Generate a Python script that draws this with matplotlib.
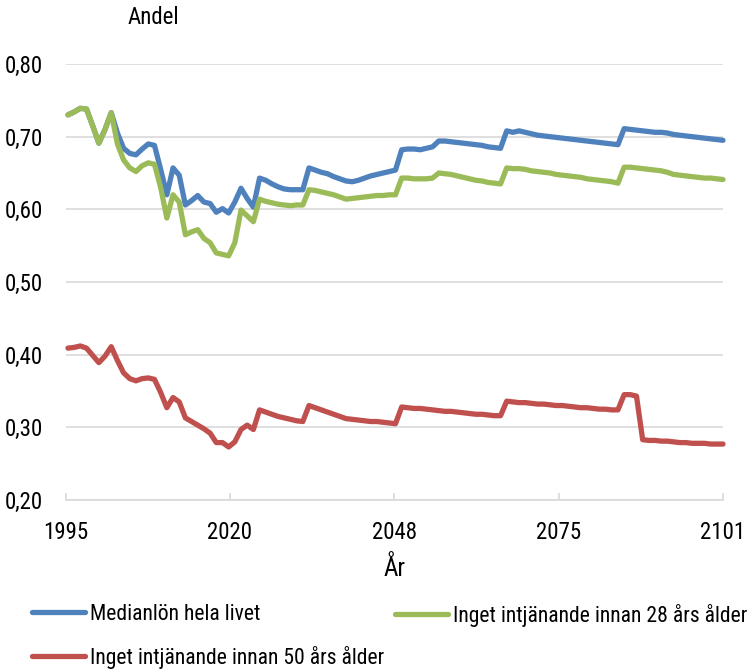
import numpy as np
import matplotlib
matplotlib.use("Agg")
import matplotlib.pyplot as plt
from matplotlib import font_manager

years = list(range(1995, 2102))

median_life = [
    0.730, 0.734, 0.739, 0.738, 0.715,                      # 1995-1999
    0.691, 0.710, 0.733, 0.705, 0.684, 0.677, 0.675, 0.683, 0.690, 0.688,  # 2000-2009
    0.655, 0.620, 0.657, 0.647, 0.606, 0.612, 0.619, 0.610, 0.608, 0.596,  # 2010-2019
    0.601, 0.595, 0.610, 0.629, 0.615, 0.603, 0.643, 0.640, 0.635, 0.631,  # 2020-2029
    0.628, 0.627, 0.627, 0.627, 0.657, 0.654, 0.651, 0.649, 0.645, 0.642,  # 2030-2039
    0.639, 0.638, 0.640, 0.643, 0.646, 0.648, 0.650, 0.652, 0.654, 0.682,  # 2040-2049
    0.683, 0.683, 0.682, 0.684, 0.686, 0.694, 0.694, 0.693, 0.692, 0.691,  # 2050-2059
    0.690, 0.689, 0.688, 0.686, 0.685, 0.684, 0.708, 0.706, 0.708, 0.706,  # 2060-2069
    0.704, 0.702, 0.701, 0.700, 0.699, 0.698, 0.697, 0.696, 0.695, 0.694,  # 2070-2079
    0.693, 0.692, 0.691, 0.690, 0.689, 0.711, 0.710, 0.709, 0.708, 0.707,  # 2080-2089
    0.706, 0.706, 0.705, 0.703, 0.702, 0.701, 0.700, 0.699, 0.698, 0.697,  # 2090-2099
    0.696, 0.695,                                                         # 2100-2101
]

no_income_28 = [
    0.730, 0.734, 0.739, 0.738, 0.715,                      # 1995-1999
    0.691, 0.710, 0.733, 0.690, 0.668, 0.657, 0.652, 0.660, 0.664, 0.662,  # 2000-2009
    0.630, 0.588, 0.620, 0.610, 0.565, 0.569, 0.572, 0.560, 0.554, 0.540,  # 2010-2019
    0.538, 0.536, 0.554, 0.599, 0.591, 0.583, 0.614, 0.611, 0.609, 0.607,  # 2020-2029
    0.606, 0.605, 0.606, 0.606, 0.627, 0.626, 0.624, 0.622, 0.620, 0.617,  # 2030-2039
    0.614, 0.615, 0.616, 0.617, 0.618, 0.619, 0.619, 0.620, 0.620, 0.643,  # 2040-2049
    0.643, 0.642, 0.642, 0.642, 0.643, 0.650, 0.649, 0.648, 0.646, 0.644,  # 2050-2059
    0.642, 0.640, 0.639, 0.637, 0.636, 0.635, 0.657, 0.656, 0.656, 0.655,  # 2060-2069
    0.653, 0.652, 0.651, 0.650, 0.648, 0.647, 0.646, 0.645, 0.644, 0.642,  # 2070-2079
    0.641, 0.640, 0.639, 0.638, 0.636, 0.658, 0.658, 0.657, 0.656, 0.655,  # 2080-2089
    0.654, 0.653, 0.651, 0.648, 0.647, 0.646, 0.645, 0.644, 0.643, 0.643,  # 2090-2099
    0.642, 0.641,                                                         # 2100-2101
]

no_income_50 = [
    0.409, 0.410, 0.412, 0.409, 0.399,                      # 1995-1999
    0.389, 0.398, 0.411, 0.392, 0.375, 0.367, 0.364, 0.367, 0.368, 0.366,  # 2000-2009
    0.348, 0.327, 0.341, 0.335, 0.313, 0.308, 0.303, 0.298, 0.292, 0.279,  # 2010-2019
    0.279, 0.273, 0.280, 0.297, 0.303, 0.297, 0.324, 0.321, 0.318, 0.315,  # 2020-2029
    0.313, 0.311, 0.309, 0.308, 0.330, 0.327, 0.324, 0.321, 0.318, 0.315,  # 2030-2039
    0.312, 0.311, 0.310, 0.309, 0.308, 0.308, 0.307, 0.306, 0.305, 0.328,  # 2040-2049
    0.327, 0.326, 0.326, 0.325, 0.324, 0.323, 0.322, 0.322, 0.321, 0.320,  # 2050-2059
    0.319, 0.318, 0.318, 0.317, 0.316, 0.316, 0.336, 0.335, 0.334, 0.334,  # 2060-2069
    0.333, 0.332, 0.332, 0.331, 0.330, 0.330, 0.329, 0.328, 0.327, 0.327,  # 2070-2079
    0.326, 0.325, 0.325, 0.324, 0.324, 0.345, 0.345, 0.343, 0.283, 0.282,  # 2080-2089
    0.282, 0.281, 0.281, 0.280, 0.279, 0.279, 0.278, 0.278, 0.278, 0.277,  # 2090-2099
    0.277, 0.277,                                                         # 2100-2101
]

series_labels = ["Medianlön hela livet",
                 "Inget intjänande innan 28 års ålder",
                 "Inget intjänande innan 50 års ålder"]
series_colors = ["#4f81bd", "#9bbb59", "#c0504d"]

x_tick_labels = ["1995", "2020", "2048", "2075", "2101"]
y_ticks = [0.20, 0.30, 0.40, 0.50, 0.60, 0.70, 0.80]
y_tick_labels = ["0,20", "0,30", "0,40", "0,50", "0,60", "0,70", "0,80"]

# pick a narrow / condensed font if one is installed
narrow = None
cond_stretch = {'condensed', 'semi-condensed', 'extra-condensed', 'ultra-condensed', 75, 62.5, 87.5}
cands = []
for f in font_manager.fontManager.ttflist:
    nm = f.name.lower()
    fn = f.fname.lower()
    if f.style != 'normal' or f.weight not in (400, 'normal', 'regular'):
        continue
    if 'narrow' in nm or 'condensed' in nm or 'narrow' in fn or 'condensed' in fn \
            or f.stretch in cond_stretch:
        cands.append(f)
pref = ['liberation sans narrow', 'roboto condensed', 'open sans condensed',
        'noto sans', 'dejavu sans']
for p in pref:
    for f in cands:
        if f.name.lower().startswith(p.split()[0]) and (p.split()[0] != 'liberation' or 'narrow' in f.name.lower() or 'narrow' in f.fname.lower()):
            narrow = f
            break
    if narrow:
        break
if narrow is None and cands:
    narrow = cands[0]

if narrow is not None:
    FS = 16.5
    LFS = 15.6
    fp = font_manager.FontProperties(fname=narrow.fname, size=FS)
else:
    FS = 14.5
    LFS = 13.5
    fp = font_manager.FontProperties(family='Roboto', size=FS)
fp_leg = fp.copy()
fp_leg.set_size(LFS)

plt.rcParams['font.family'] = ['DejaVu Sans']

fig = plt.figure(figsize=(7.52, 6.72), dpi=100)
ax = fig.add_axes([65.5/752, 1 - 500/672, (723 - 65.5)/752, (500 - 64)/672])

lines = []
for vals, lab, col in zip([median_life, no_income_28, no_income_50], series_labels, series_colors):
    ln, = ax.plot(years, vals, color=col, lw=3.8, label=lab,
                  solid_capstyle='round', solid_joinstyle='round', clip_on=False, zorder=3)
    lines.append(ln)

x_left = 1994.6
ax.set_xlim(x_left, years[-1])
ax.set_ylim(0.20, 0.80)
ax.set_yticks(y_ticks)
ax.set_yticklabels(y_tick_labels)
ax.set_xticks(np.linspace(x_left, years[-1], len(x_tick_labels)))
ax.set_xticklabels(x_tick_labels)
for t in ax.get_xticklabels() + ax.get_yticklabels():
    t.set_fontproperties(fp)

for s in ['left', 'right', 'top']:
    ax.spines[s].set_visible(False)
ax.spines['bottom'].set_color('#d9d9d9')
ax.spines['bottom'].set_linewidth(1.2)

ax.yaxis.grid(True, color='#d9d9d9', lw=1.2)
ax.set_axisbelow(True)
ax.tick_params(axis='y', length=0, pad=16, colors='#000000')
ax.tick_params(axis='x', direction='in', length=5, width=1.2, color='#d9d9d9', pad=15)

fig.text(153/752, 1 - 18/672, "Andel", ha='center', va='center', fontproperties=fp)
fp_x = fp.copy()
fp_x.set_size(FS + 1.5)
ax.set_xlabel("År", fontproperties=fp_x, labelpad=9)

px_per_em = LFS * 100 / 72.0
leg_kw = dict(loc='upper left', frameon=False, prop=fp_leg, handlelength=53 / px_per_em,
              handletextpad=5 / px_per_em, labelspacing=0.95, borderaxespad=0, borderpad=0)
leg1 = fig.legend([lines[0], lines[2]], [series_labels[0], series_labels[2]],
                  bbox_to_anchor=(32/752, 1 - 604/672), **leg_kw)
leg2 = fig.legend([lines[1]], [series_labels[1]],
                  bbox_to_anchor=(395/752, 1 - 604/672), **leg_kw)

fig.savefig("out.png", dpi=100)
